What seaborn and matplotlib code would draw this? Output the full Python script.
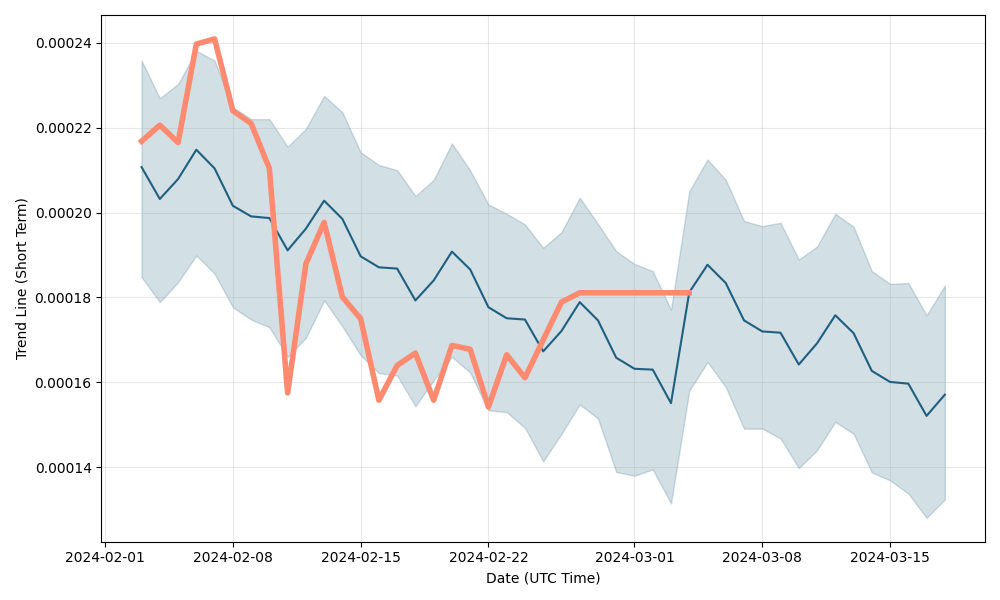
import pandas as pd
import numpy as np
import matplotlib
matplotlib.use("Agg")
from matplotlib import pyplot as plt
import seaborn as sns

# daily values, 2024-02-03 .. 2024-03-18
dates = pd.date_range("2024-02-03", "2024-03-18", freq="D")

trend_mean = [0.0002107, 0.0002032, 0.0002079, 0.0002148, 0.0002104, 0.0002016, 0.0001991,
              0.0001987, 0.0001911, 0.0001962, 0.0002028, 0.0001985, 0.0001897, 0.0001871,
              0.0001868, 0.0001793, 0.0001840, 0.0001908, 0.0001866, 0.0001777, 0.0001751,
              0.0001748, 0.0001673, 0.0001721, 0.0001789, 0.0001746, 0.0001658, 0.0001632,
              0.0001630, 0.0001551, 0.0001812, 0.0001877, 0.0001834, 0.0001746, 0.0001720,
              0.0001717, 0.0001642, 0.0001692, 0.0001758, 0.0001716, 0.0001627, 0.0001601,
              0.0001597, 0.0001521, 0.0001571]

band_upper = [0.0002358, 0.0002269, 0.0002303, 0.0002381, 0.0002358, 0.0002248, 0.0002220,
              0.0002220, 0.0002155, 0.0002197, 0.0002275, 0.0002236, 0.0002142, 0.0002112,
              0.0002100, 0.0002039, 0.0002077, 0.0002163, 0.0002099, 0.0002019, 0.0001997,
              0.0001972, 0.0001917, 0.0001954, 0.0002035, 0.0001973, 0.0001909, 0.0001879,
              0.0001862, 0.0001771, 0.0002050, 0.0002125, 0.0002077, 0.0001980, 0.0001968,
              0.0001976, 0.0001889, 0.0001920, 0.0001997, 0.0001967, 0.0001862, 0.0001832,
              0.0001834, 0.0001758, 0.0001828]

band_lower = [0.0001848, 0.0001789, 0.0001836, 0.0001899, 0.0001856, 0.0001777, 0.0001748,
              0.0001730, 0.0001660, 0.0001705, 0.0001793, 0.0001732, 0.0001664, 0.0001622,
              0.0001616, 0.0001544, 0.0001605, 0.0001660, 0.0001623, 0.0001534, 0.0001530,
              0.0001493, 0.0001414, 0.0001479, 0.0001548, 0.0001515, 0.0001389, 0.0001380,
              0.0001395, 0.0001315, 0.0001580, 0.0001648, 0.0001589, 0.0001491, 0.0001491,
              0.0001468, 0.0001398, 0.0001440, 0.0001507, 0.0001479, 0.0001388, 0.0001369,
              0.0001338, 0.0001281, 0.0001324]

# actual price, only up to 2024-03-04
price = [0.0002168, 0.0002206, 0.0002165, 0.0002397, 0.0002409, 0.0002240, 0.0002210,
         0.0002104, 0.0001575, 0.0001879, 0.0001977, 0.0001801, 0.0001750, 0.0001558,
         0.0001640, 0.0001669, 0.0001558, 0.0001687, 0.0001678, 0.0001542, 0.0001665,
         0.0001611, 0.0001700, 0.0001789, 0.0001811, 0.0001811, 0.0001811, 0.0001811,
         0.0001811, 0.0001811, 0.0001811]

df = pd.DataFrame({"date": dates, "mean": trend_mean, "upper": band_upper, "lower": band_lower})
df_price = pd.DataFrame({"date": dates[:len(price)], "price": price})

blue = "#1f5f7f"
orange = "#ff8a70"

fig, ax = plt.subplots(figsize=(10, 6), dpi=100)
ax.fill_between(df["date"], df["lower"], df["upper"], color=blue, alpha=0.2)
sns.lineplot(data=df, x="date", y="mean", color=blue, linewidth=1.5, ax=ax)
sns.lineplot(data=df_price, x="date", y="price", color=orange, linewidth=4, ax=ax)

ax.grid(True, alpha=0.3)
ax.set_xlabel("Date (UTC Time)")
ax.set_ylabel("Trend Line (Short Term)")

plt.tight_layout()
plt.savefig("out.png")
